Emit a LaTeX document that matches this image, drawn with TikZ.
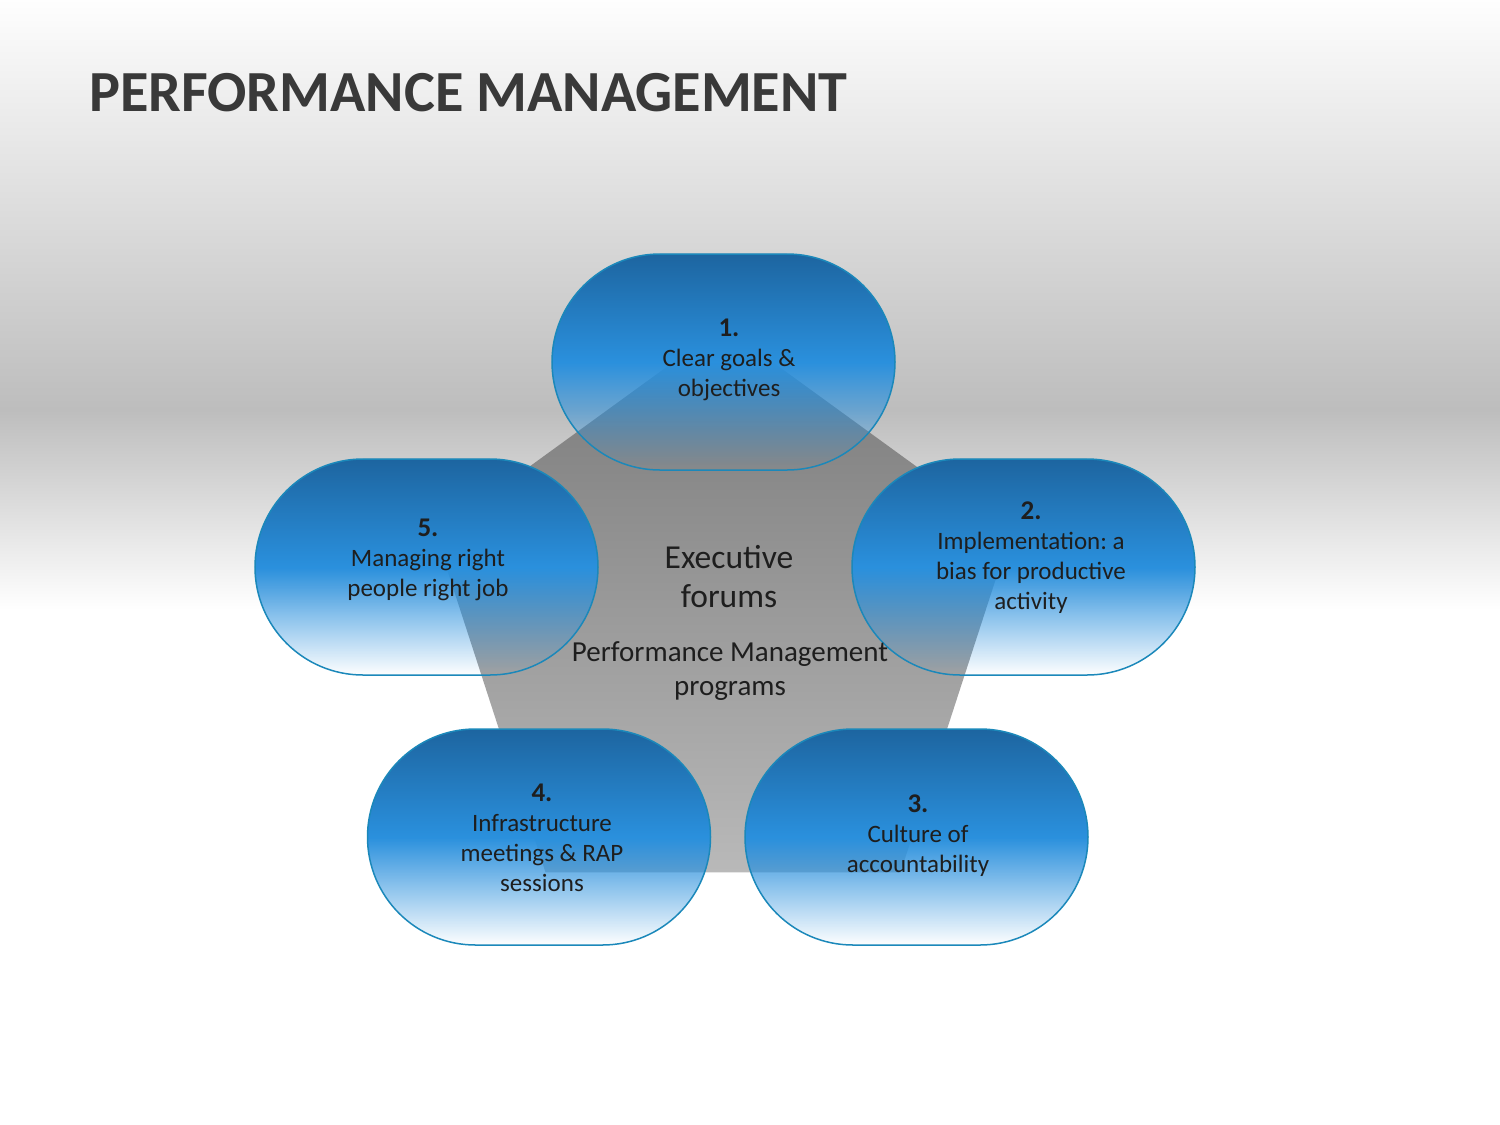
\documentclass[tikz,border=0pt]{standalone}
\usepackage{fontspec}
\setmainfont{Carlito}
\frenchspacing
\usetikzlibrary{shapes,fadings,positioning}
\definecolor{pilltop}{HTML}{1D65A0}
\definecolor{pillmid}{HTML}{2A90DD}
\definecolor{pillline}{HTML}{1B88BA}
\definecolor{inkgray}{HTML}{1E1E1E}
\definecolor{titlegray}{HTML}{393939}
\definecolor{hubtop}{HTML}{787878}
\definecolor{hubbottom}{HTML}{B9B9B9}
\definecolor{skygray}{HTML}{BDBDBD}
\tikzfading[name=pillfade, top color=transparent!0, bottom color=transparent!100, middle color=transparent!0]

\begin{document}
\begin{tikzpicture}[x=1pt,y=-1pt,
  pill/.style={rounded rectangle, minimum width=343pt, minimum height=216pt, inner sep=0pt,
    draw=pillline, line width=1.5pt,
    preaction={top color=pilltop, bottom color=pillmid, middle color=pillmid, path fading=pillfade}},
  pilltext/.style={align=center, text=inkgray, inner sep=0pt, font=\fontsize{25}{30}\selectfont},
  hubtext/.style={align=center, text=inkgray, inner sep=0pt}]
 \useasboundingbox (0,0) rectangle (1500,1125);
 \fill[white] (0,0) rectangle (1500,1125);
 \shade[top color=white!98!skygray, bottom color=skygray] (0,0) rectangle (1500,410);
 \shade[top color=skygray, bottom color=white] (0,410) rectangle (1500,610);
 % title
 \node[anchor=base west, inner sep=0pt, text=titlegray, font=\fontsize{58.2}{70}\selectfont\bfseries] (title) at (89,111) {PERFORMANCE MANAGEMENT};
 % centre pentagon
 \node[regular polygon, regular polygon sides=5, minimum size=604pt, inner sep=0pt, outer sep=0pt,
   top color=hubtop, bottom color=hubbottom] (hub) at (723,628) {};
 % the five pills
 \node[pill] (goals) at (723.5,362) {};
 \node[pill] (bias) at (1023.5,567) {};
 \node[pill] (people) at (426.5,567) {};
 \node[pill] (meetings) at (539,837) {};
 \node[pill] (culture) at (916.5,837) {};
 \node[pilltext] (goalstext) at ([shift={(5.5,-2)}]goals.center) {{\bfseries\fontsize{27}{30}\selectfont 1.}\\Clear goals \&\\objectives};
 \node[pilltext] (biastext) at ([shift={(7.5,-9)}]bias.center) {{\bfseries\fontsize{27}{30}\selectfont 2.}\\Implementation: a\\bias for productive\\activity};
 \node[pilltext] (culturetext) at ([shift={(1.5,-1)}]culture.center) {{\bfseries\fontsize{27}{30}\selectfont 3.}\\Culture of\\accountability};
 \node[pilltext] (meetingstext) at ([shift={(3,1)}]meetings.center) {{\bfseries\fontsize{27}{30}\selectfont 4.}\\Infrastructure\\meetings \& RAP\\sessions};
 \node[pilltext] (peopletext) at ([shift={(1.5,-7)}]people.center) {{\bfseries\fontsize{27}{30}\selectfont 5.}\\Managing right\\people right job};
 % centre texts
 \node[hubtext, font=\fontsize{33.5}{39}\selectfont] (forums) at (729,577) {Executive\\forums};
 \node[hubtext, font=\fontsize{29}{34}\selectfont] (programs) at (730,671) {Performance Management\\programs};
\end{tikzpicture}
\end{document}
